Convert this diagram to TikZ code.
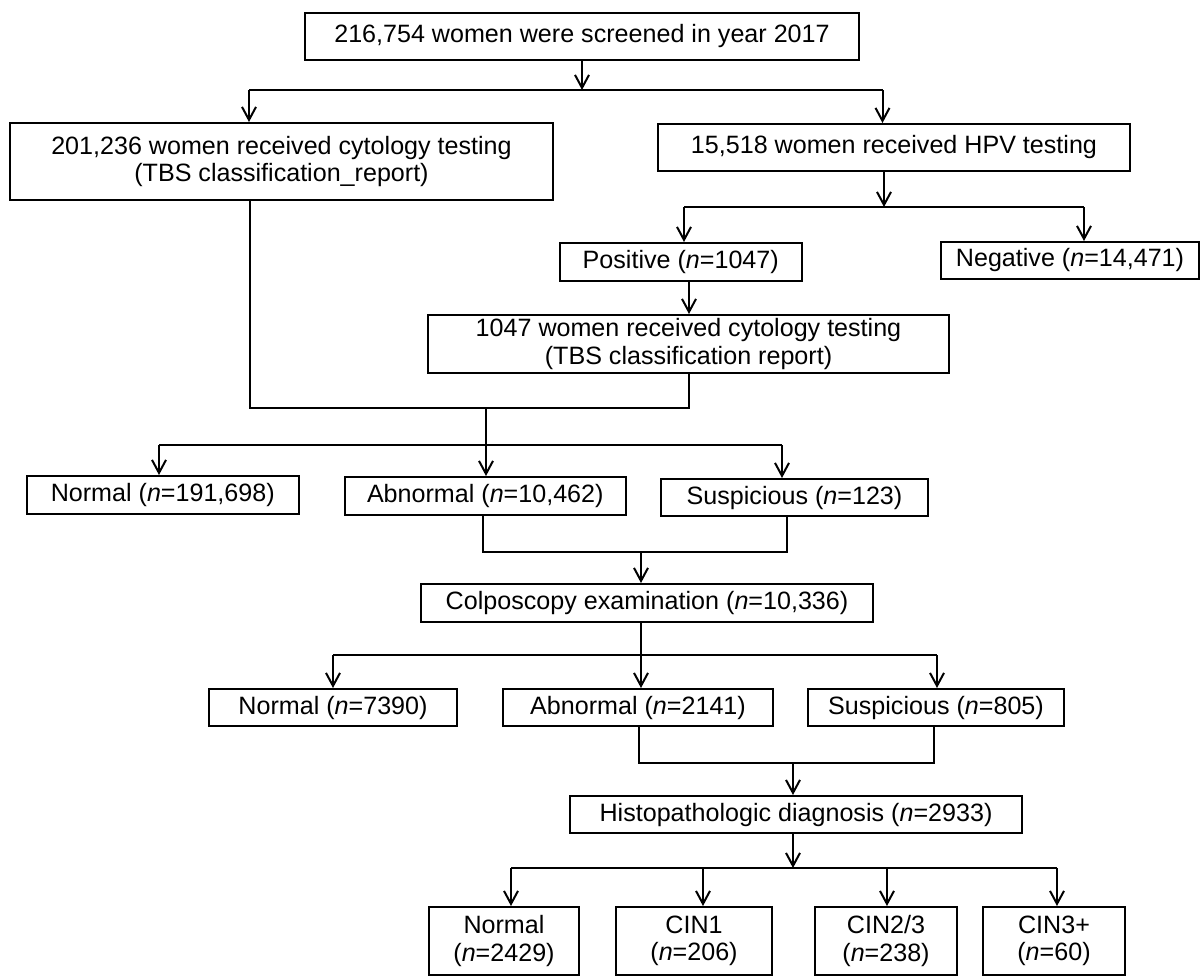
\documentclass[tikz,border=0pt]{standalone}
\usepackage{fontspec}
\setmainfont{Liberation Sans}
\usetikzlibrary{arrows.meta}
\newcommand\mybox[6]{\node[box, minimum width={(#4-#2)*0.5pt}, minimum height={(#5-#3)*0.5pt}] (#1) at ({(#2+#4)/2},{(#3+#5)/2}) {#6};}
\begin{document}
\begin{tikzpicture}[x=0.5pt,y=-0.5pt,
  box/.style={draw, line width=1pt, inner sep=0pt, align=center, font=\fontsize{12.55}{13.6}\selectfont},
  ln/.style={line width=1pt},
  arr/.style={line width=1pt, -{Straight Barb[length=6.5pt,width=7pt]}}]
\useasboundingbox (0,0) rectangle (1201,976);
\fill[white] (0,0) rectangle (1201,976);
% nodes
\mybox{top}{305}{13}{859}{60}{216,754 women were screened in year 2017}
\mybox{cyto}{10}{123}{553}{200}{201,236 women received cytology testing\\(TBS classification\_report)}
\mybox{hpv}{658}{124}{1130}{171}{15,518 women received HPV testing}
\mybox{pos}{559.5}{243}{802}{281}{Positive (\textit{n}=1047)}
\mybox{neg}{941}{242}{1199}{279}{Negative (\textit{n}=14,471)}
\mybox{cytob}{428}{315}{949}{373}{1047 women received cytology testing\\(TBS classification report)}
\mybox{nA}{27}{476}{298.5}{514}{Normal (\textit{n}=191,698)}
\mybox{abA}{344.5}{477}{626}{515}{Abnormal (\textit{n}=10,462)}
\mybox{suA}{661}{479}{928}{516}{Suspicious (\textit{n}=123)}
\mybox{colp}{421}{584}{873}{622}{Colposcopy examination (\textit{n}=10,336)}
\mybox{nB}{209}{689}{457}{726}{Normal (\textit{n}=7390)}
\mybox{abB}{503}{689}{773}{726}{Abnormal (\textit{n}=2141)}
\mybox{suB}{808}{689}{1064}{726}{Suspicious (\textit{n}=805)}
\mybox{hist}{570}{796}{1022}{833}{Histopathologic diagnosis (\textit{n}=2933)}
\mybox{nC}{429}{907}{579}{975}{Normal\\(\textit{n}=2429)}
\mybox{cA}{616}{907}{772}{975}{CIN1\\(\textit{n}=206)}
\mybox{cB}{815}{907}{957}{975}{CIN2/3\\(\textit{n}=238)}
\mybox{cC}{983}{907}{1125}{975}{CIN3+\\(\textit{n}=60)}
% junction coordinates
\coordinate (j1) at (582,90);
\coordinate (j1l) at (249,90);
\coordinate (j1r) at (882.5,90);
\coordinate (j2) at (884,207);
\coordinate (j2l) at (684,207);
\coordinate (j2r) at (1084,207);
\coordinate (j3a) at (250,408);
\coordinate (j3b) at (689,408);
\coordinate (j3c) at (486,408);
\coordinate (j4) at (486,445);
\coordinate (j4l) at (159,445);
\coordinate (j4r) at (782,445);
\coordinate (j5a) at (483,552);
\coordinate (j5b) at (787,552);
\coordinate (j5c) at (641,552);
\coordinate (j6) at (641,655);
\coordinate (j6l) at (333,655);
\coordinate (j6r) at (937,655);
\coordinate (j7a) at (639,763);
\coordinate (j7b) at (934,763);
\coordinate (j7c) at (793,763);
\coordinate (j8) at (793,868);
\coordinate (j8a) at (511,868);
\coordinate (j8b) at (703,868);
\coordinate (j8c) at (887,868);
\coordinate (j8d) at (1057,868);
% connectors
\draw[arr] (top.south) -- (j1);
\draw[ln] (j1l) -- (j1r);
\draw[arr] (j1l) -- (j1l |- cyto.north);
\draw[arr] (j1r) -- (j1r |- hpv.north);
\draw[arr] (j2 |- hpv.south) -- (j2);
\draw[ln] (j2l) -- (j2r);
\draw[arr] (j2l) -- (j2l |- pos.north);
\draw[arr] (j2r) -- (j2r |- neg.north);
\draw[arr] (pos.south -| j3b) -- (j3b |- cytob.north);
\draw[ln] (j3a |- cyto.south) -- (j3a) -- (j3b) -- (j3b |- cytob.south);
\draw[ln] (j3c) -- (j4);
\draw[ln] (j4l) -- (j4r);
\draw[arr] (j4l) -- (j4l |- nA.north);
\draw[arr] (j4) -- (j4 |- abA.north);
\draw[arr] (j4r) -- (j4r |- suA.north);
\draw[ln] (j5a |- abA.south) -- (j5a) -- (j5b) -- (j5b |- suA.south);
\draw[arr] (j5c) -- (j5c |- colp.north);
\draw[ln] (j6 |- colp.south) -- (j6);
\draw[ln] (j6l) -- (j6r);
\draw[arr] (j6l) -- (j6l |- nB.north);
\draw[arr] (j6) -- (j6 |- abB.north);
\draw[arr] (j6r) -- (j6r |- suB.north);
\draw[ln] (j7a |- abB.south) -- (j7a) -- (j7b) -- (j7b |- suB.south);
\draw[arr] (j7c) -- (j7c |- hist.north);
\draw[arr] (j8 |- hist.south) -- (j8);
\draw[ln] (j8a) -- (j8d);
\draw[arr] (j8a) -- (j8a |- nC.north);
\draw[arr] (j8b) -- (j8b |- cA.north);
\draw[arr] (j8c) -- (j8c |- cB.north);
\draw[arr] (j8d) -- (j8d |- cC.north);
\end{tikzpicture}
\end{document}
